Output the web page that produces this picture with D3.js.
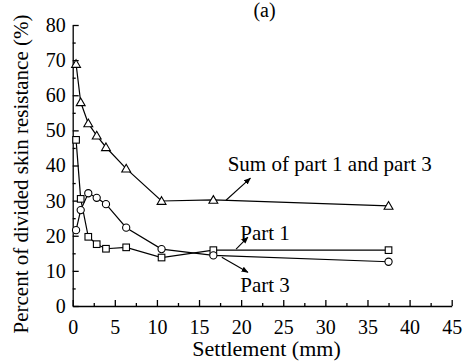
<meta charset="utf-8">
<style>
body { margin: 0; background: #fff; }
.axis path, .axis line { stroke: #000; stroke-width: 1.3; }
.series { fill: none; stroke: #000; stroke-width: 1.2; }
</style>
<body>
<script src="https://cdnjs.cloudflare.com/ajax/libs/d3/7.8.5/d3.min.js"></script>
<script>

var width = 463;
var height = 363;
var serif = "'Times New Roman', 'Liberation Serif', 'DejaVu Serif', 'Noto Serif', serif";

// settlement (mm)
var settlement = [0.4, 0.95, 1.85, 2.85, 3.95, 6.35, 10.55, 16.7, 37.5];
// percent of divided skin resistance
var sumPart = [68.9, 58.0, 52.0, 48.5, 45.2, 39.1, 29.9, 30.2, 28.5];
var part1 = [47.3, 30.5, 19.7, 17.6, 16.3, 16.7, 13.8, 15.9, 15.9];
var part3 = [21.6, 27.3, 32.1, 30.8, 29.0, 22.3, 16.2, 14.4, 12.6];

var xTicks = [0, 5, 10, 15, 20, 25, 30, 35, 40, 45];
var yTicks = [0, 10, 20, 30, 40, 50, 60, 70, 80];

var x = d3.scaleLinear().domain([0, 45]).range([72.7, 451.7]);
var y = d3.scaleLinear().domain([0, 80]).range([306, 25]);

var svg = d3.select("body").append("svg")
    .attr("width", width)
    .attr("height", height)
    .style("font-family", serif);

// arrow head
svg.append("defs").append("marker")
    .attr("id", "arrow")
    .attr("viewBox", "0 0 10 10")
    .attr("refX", 9).attr("refY", 5)
    .attr("markerWidth", 7).attr("markerHeight", 7)
    .attr("markerUnits", "userSpaceOnUse")
    .attr("orient", "auto")
  .append("path")
    .attr("d", "M0,1 L10,5 L0,9 z")
    .attr("fill", "#000");

// minor ticks
svg.append("g").attr("class", "axis")
    .attr("transform", "translate(" + x(0) + ",0)")
    .call(d3.axisLeft(y).tickValues(d3.range(5, 80, 10)).tickSize(-3).tickFormat(""))
    .call(function(g) { g.select(".domain").remove(); });

svg.append("g").attr("class", "axis")
    .attr("transform", "translate(0," + y(0) + ")")
    .call(d3.axisBottom(x).tickValues(d3.range(2.5, 45, 5)).tickSize(-3).tickFormat(""))
    .call(function(g) { g.select(".domain").remove(); });

// major ticks
var yAxis = svg.append("g").attr("class", "axis")
    .attr("transform", "translate(" + x(0) + ",0)")
    .call(d3.axisLeft(y).tickValues(yTicks).tickSizeInner(-6).tickSizeOuter(0).tickFormat(d3.format("d")));
yAxis.attr("font-family", null).attr("font-size", null);
yAxis.selectAll("text").attr("x", -7).style("font-family", serif).style("font-size", "20px");

var xAxis = svg.append("g").attr("class", "axis")
    .attr("transform", "translate(0," + y(0) + ")")
    .call(d3.axisBottom(x).tickValues(xTicks).tickSizeInner(-6).tickSizeOuter(0).tickFormat(d3.format("d")));
xAxis.attr("font-family", null).attr("font-size", null);
xAxis.selectAll("text").attr("y", 14).style("font-family", serif).style("font-size", "20px");

// lines
var line = d3.line()
    .x(function(d) { return x(d[0]); })
    .y(function(d) { return y(d[1]); });

function pairs(vals) {
  return settlement.map(function(s, i) { return [s, vals[i]]; });
}

[sumPart, part1, part3].forEach(function(vals) {
  svg.append("path")
      .datum(pairs(vals))
      .attr("class", "series")
      .attr("d", line);
});

// markers
var tri = d3.symbol().type(d3.symbolTriangle).size(34);
svg.selectAll(".tri")
    .data(pairs(sumPart))
  .enter().append("path")
    .attr("transform", function(d) { return "translate(" + x(d[0]) + "," + (y(d[1]) + 0.8) + ")"; })
    .attr("d", tri)
    .attr("fill", "#fff").attr("stroke", "#000").attr("stroke-width", 1.1);

svg.selectAll(".sq")
    .data(pairs(part1))
  .enter().append("rect")
    .attr("x", function(d) { return x(d[0]) - 3.3; })
    .attr("y", function(d) { return y(d[1]) - 3.3; })
    .attr("width", 6.6).attr("height", 6.6)
    .attr("fill", "#fff").attr("stroke", "#000").attr("stroke-width", 1.1);

svg.selectAll(".circ")
    .data(pairs(part3))
  .enter().append("circle")
    .attr("cx", function(d) { return x(d[0]); })
    .attr("cy", function(d) { return y(d[1]); })
    .attr("r", 3.6)
    .attr("fill", "#fff").attr("stroke", "#000").attr("stroke-width", 1.1);

// annotations
function arrow(x1, y1, x2, y2) {
  svg.append("line")
      .attr("x1", x(x1)).attr("y1", y(y1))
      .attr("x2", x(x2)).attr("y2", y(y2))
      .attr("stroke", "#000").attr("stroke-width", 1.1)
      .attr("marker-end", "url(#arrow)");
}
arrow(18.2, 30.1, 21.1, 36.4);
arrow(19.4, 16.2, 20.8, 19.6);
arrow(17.7, 13.9, 20.8, 9.6);

function label(tx, ty, s) {
  svg.append("text").attr("x", tx).attr("y", ty)
      .style("font-family", serif).style("font-size", "21px").text(s);
}
label(x(18.4), y(38.4), "Sum of part 1 and part 3");
label(x(19.9), 240, "Part 1");
label(x(19.9), 292, "Part 3");

// titles
svg.append("text")
    .attr("x", 264.5).attr("y", 17)
    .attr("text-anchor", "middle")
    .style("font-family", serif).style("font-size", "20px")
    .text("(a)");

svg.append("text")
    .attr("x", 266.5).attr("y", 356)
    .attr("text-anchor", "middle")
    .style("font-family", serif).style("font-size", "22px")
    .text("Settlement (mm)");

svg.append("text")
    .attr("transform", "translate(28,174) rotate(-90)")
    .attr("text-anchor", "middle")
    .style("font-family", serif).style("font-size", "21px")
    .text("Percent of divided skin resistance (%)");

</script>
</body>
